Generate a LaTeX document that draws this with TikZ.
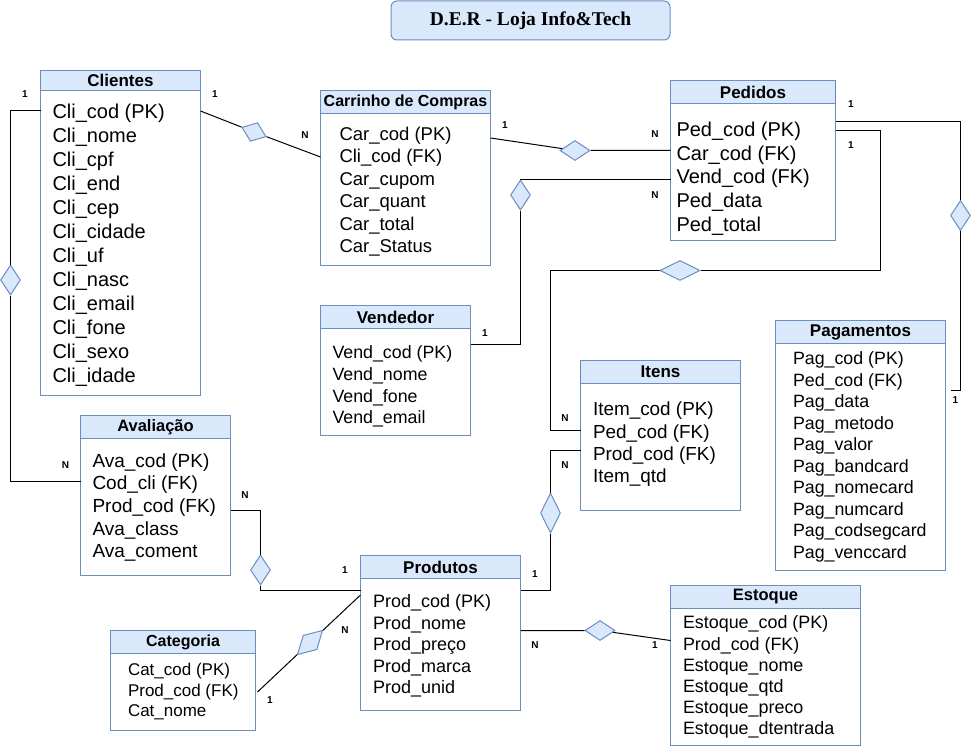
\documentclass[tikz,border=0pt]{standalone}
\usepackage{fontspec}
\setmainfont{Liberation Sans}
\newfontfamily\serifbold{Liberation Serif}
\usetikzlibrary{positioning,shapes.geometric,calc}
\definecolor{hdfill}{HTML}{DAE8FC}
\definecolor{hdline}{HTML}{6C8EBF}
\newcommand{\fs}[2]{\fontsize{#1}{#2}\selectfont}

\begin{document}
\begin{tikzpicture}[x=1pt,y=-1pt,line width=1pt,
  body/.style={draw=hdline,fill=white,outer sep=0pt,inner sep=0pt,anchor=north west},
  head/.style={draw=hdline,fill=hdfill,outer sep=0pt,inner sep=0pt,minimum height=23pt,font=\fs{17}{20}\bfseries},
  attr/.style={anchor=west,align=left,inner sep=0pt,yshift=-2pt},
  rel/.style={diamond,draw=hdline,fill=hdfill,inner sep=0pt},
  card/.style={inner sep=0pt,font=\fs{10}{12}\bfseries}]
\useasboundingbox (0,0) rectangle (971,746);

\node[draw=hdline,fill=hdfill,rounded corners=6pt,minimum width=279pt,minimum height=39pt,
  inner sep=0pt,font=\serifbold\fs{19.5}{22}\bfseries] (title) at (530.5,20.5) {D.E.R - Loja Info\&Tech};

% tabelas
\node[body,minimum width=160pt,minimum height=305pt] (cli) at (40.5,90.5) {};
\node[head,minimum width=160pt,minimum height=20pt,above=0pt of cli] (clihd) {Clientes};
\node[attr,font=\fs{20}{24}] (clitx) at (52,243) {Cli\_cod (PK)\\Cli\_nome\\Cli\_cpf\\Cli\_end\\Cli\_cep\\Cli\_cidade\\Cli\_uf\\Cli\_nasc\\Cli\_email\\Cli\_fone\\Cli\_sexo\\Cli\_idade};

\node[body,minimum width=170pt,minimum height=152pt] (car) at (320.5,113.5) {};
\node[head,minimum width=170pt,above=0pt of car,font=\fs{16}{19}\bfseries] (carhd) {Carrinho de Compras};
\node[attr,font=\fs{18.5}{22.5}] (cartx) at (339,189.5) {Car\_cod (PK)\\Cli\_cod (FK)\\Car\_cupom\\Car\_quant\\Car\_total\\Car\_Status};

\node[body,minimum width=165pt,minimum height=137pt] (ped) at (670.5,103.5) {};
\node[head,minimum width=165pt,above=0pt of ped] (pedhd) {Pedidos};
\node[attr,font=\fs{20}{23.75}] (pedtx) at (676,176.5) {Ped\_cod (PK)\\Car\_cod (FK)\\Vend\_cod (FK)\\Ped\_data\\Ped\_total};

\node[body,minimum width=150pt,minimum height=107pt] (ven) at (320.5,328.5) {};
\node[head,minimum width=150pt,above=0pt of ven] (venhd) {Vendedor};
\node[attr,font=\fs{17.8}{21.6}] (ventx) at (332,384.7) {Vend\_cod (PK)\\Vend\_nome\\Vend\_fone\\Vend\_email};

\node[body,minimum width=160pt,minimum height=127pt] (ite) at (580.5,383.5) {};
\node[head,minimum width=160pt,above=0pt of ite] (itehd) {Itens};
\node[attr,font=\fs{18.9}{22.2}] (itetx) at (592.5,442.3) {Item\_cod (PK)\\Ped\_cod (FK)\\Prod\_cod (FK)\\Item\_qtd};

\node[body,minimum width=170pt,minimum height=227pt] (pag) at (775.5,343.5) {};
\node[head,minimum width=170pt,above=0pt of pag] (paghd) {Pagamentos};
\node[attr,font=\fs{17.8}{21.5}] (pagtx) at (792.5,455) {Pag\_cod (PK)\\Ped\_cod (FK)\\Pag\_data\\Pag\_metodo\\Pag\_valor\\Pag\_bandcard\\Pag\_nomecard\\Pag\_numcard\\Pag\_codsegcard\\Pag\_venccard};

\node[body,minimum width=150pt,minimum height=137pt] (ava) at (80.5,438.5) {};
\node[head,minimum width=150pt,above=0pt of ava,font=\fs{16.5}{19}\bfseries] (avahd) {Avaliação};
\node[attr,font=\fs{19}{22.7}] (avatx) at (92,505.4) {Ava\_cod (PK)\\Cod\_cli (FK)\\Prod\_cod (FK)\\Ava\_class\\Ava\_coment};

\node[body,minimum width=160pt,minimum height=132pt] (pro) at (360.5,578.5) {};
\node[head,minimum width=160pt,above=0pt of pro] (prohd) {Produtos};
\node[attr,font=\fs{18}{21.4}] (protx) at (372.5,643.9) {Prod\_cod (PK)\\Prod\_nome\\Prod\_preço\\Prod\_marca\\Prod\_unid};

\node[body,minimum width=145pt,minimum height=77pt] (cat) at (110.5,653.5) {};
\node[head,minimum width=145pt,above=0pt of cat,font=\fs{16}{19}\bfseries] (cathd) {Categoria};
\node[attr,font=\fs{17}{20.5}] (cattx) at (127.5,689.8) {Cat\_cod (PK)\\Prod\_cod (FK)\\Cat\_nome};

\node[body,minimum width=190pt,minimum height=137pt] (est) at (670.5,608.5) {};
\node[head,minimum width=190pt,above=0pt of est,font=\fs{16.5}{19}\bfseries] (esthd) {Estoque};
\node[attr,font=\fs{17.9}{21.2}] (esttx) at (682.5,675.3) {Estoque\_cod (PK)\\Prod\_cod (FK)\\Estoque\_nome\\Estoque\_qtd\\Estoque\_preco\\Estoque\_dtentrada};

% relacionamentos
\node[rel,minimum width=26pt,minimum height=20pt,rotate=-21] (r1) at (254,132) {};
\node[rel,minimum width=20pt,minimum height=30pt] (r2) at (10.5,280) {};
\node[rel,minimum width=30pt,minimum height=20pt] (r3) at (575,150.5) {};
\node[rel,minimum width=20pt,minimum height=30pt] (r4) at (520.5,195) {};
\node[rel,minimum width=40pt,minimum height=20pt] (r5) at (680,270.5) {};
\node[rel,minimum width=20pt,minimum height=30pt] (r6) at (960.5,215.5) {};
\node[rel,minimum width=20pt,minimum height=40pt] (r7) at (550.5,513) {};
\node[rel,minimum width=20pt,minimum height=30pt] (r8) at (260.5,570) {};
\node[rel,minimum width=35pt,minimum height=20pt,rotate=44] (r9) at (310,642.5) {};
\node[rel,minimum width=30pt,minimum height=20pt] (r10) at (600,630.5) {};
\coordinate (k1) at (880.5,270.5);
\coordinate (k2) at (550.5,270.5);

\draw ($(cli.north east)+(0,20.5)$) -- (r1) -- ($(car.north west)+(0,43.5)$);
\draw ($(cli.north west)+(0,20.5)$) -| (r2) |- ($(ava.north west)+(0,42.5)$);
\draw ($(car.north east)+(0,24.5)$) -- (r3) -- (r3 -| ped.west);
\draw ($(ped.north west)+(0,76.5)$) -| (r4) |- ($(ven.north east)+(0,15.5)$);
\draw ($(ped.north east)+(0,27.5)$) -| (k1) -- (r5) -- (k2) |- ($(ite.north west)+(0,47)$);
\draw ($(ped.north east)+(0,18.5)$) -| (r6) |- ($(pag.north east)+(5,46.5)$);
\draw ($(ite.north west)+(0,67)$) -| (r7) |- ($(pro.north east)+(0,12)$);
\draw ($(ava.north east)+(0,71.5)$) -| (r8) |- ($(pro.north west)+(0,12)$);
\draw ($(cat.north east)+(2,38.5)$) -- (r9) -- ($(pro.north west)+(0,16.5)$);
\draw ($(pro.north east)+(0,52)$) -- (r10) -- ($(est.north west)+(0,32)$);

% cardinalidades
\node[card] (n1a) at (215,94.5) {1};
\node[card] (n1b) at (305,135) {N};
\node[card] (n2a) at (25,94.5) {1};
\node[card] (n2b) at (65.5,465) {N};
\node[card] (n3a) at (505,125) {1};
\node[card] (n3b) at (655,134.5) {N};
\node[card] (n4a) at (655,195) {N};
\node[card] (n4b) at (485,333) {1};
\node[card] (n5a) at (851,145.5) {1};
\node[card] (n5b) at (565,418) {N};
\node[card] (n6a) at (851,104) {1};
\node[card] (n6b) at (955.5,400) {1};
\node[card] (n7a) at (565,465) {N};
\node[card] (n7b) at (535,574) {1};
\node[card] (n8a) at (245,495) {N};
\node[card] (n8b) at (345,570) {1};
\node[card] (n9a) at (345,630) {N};
\node[card] (n9b) at (270,700) {1};
\node[card] (n10a) at (535,645) {N};
\node[card] (n10b) at (655,645) {1};
\end{tikzpicture}
\end{document}
